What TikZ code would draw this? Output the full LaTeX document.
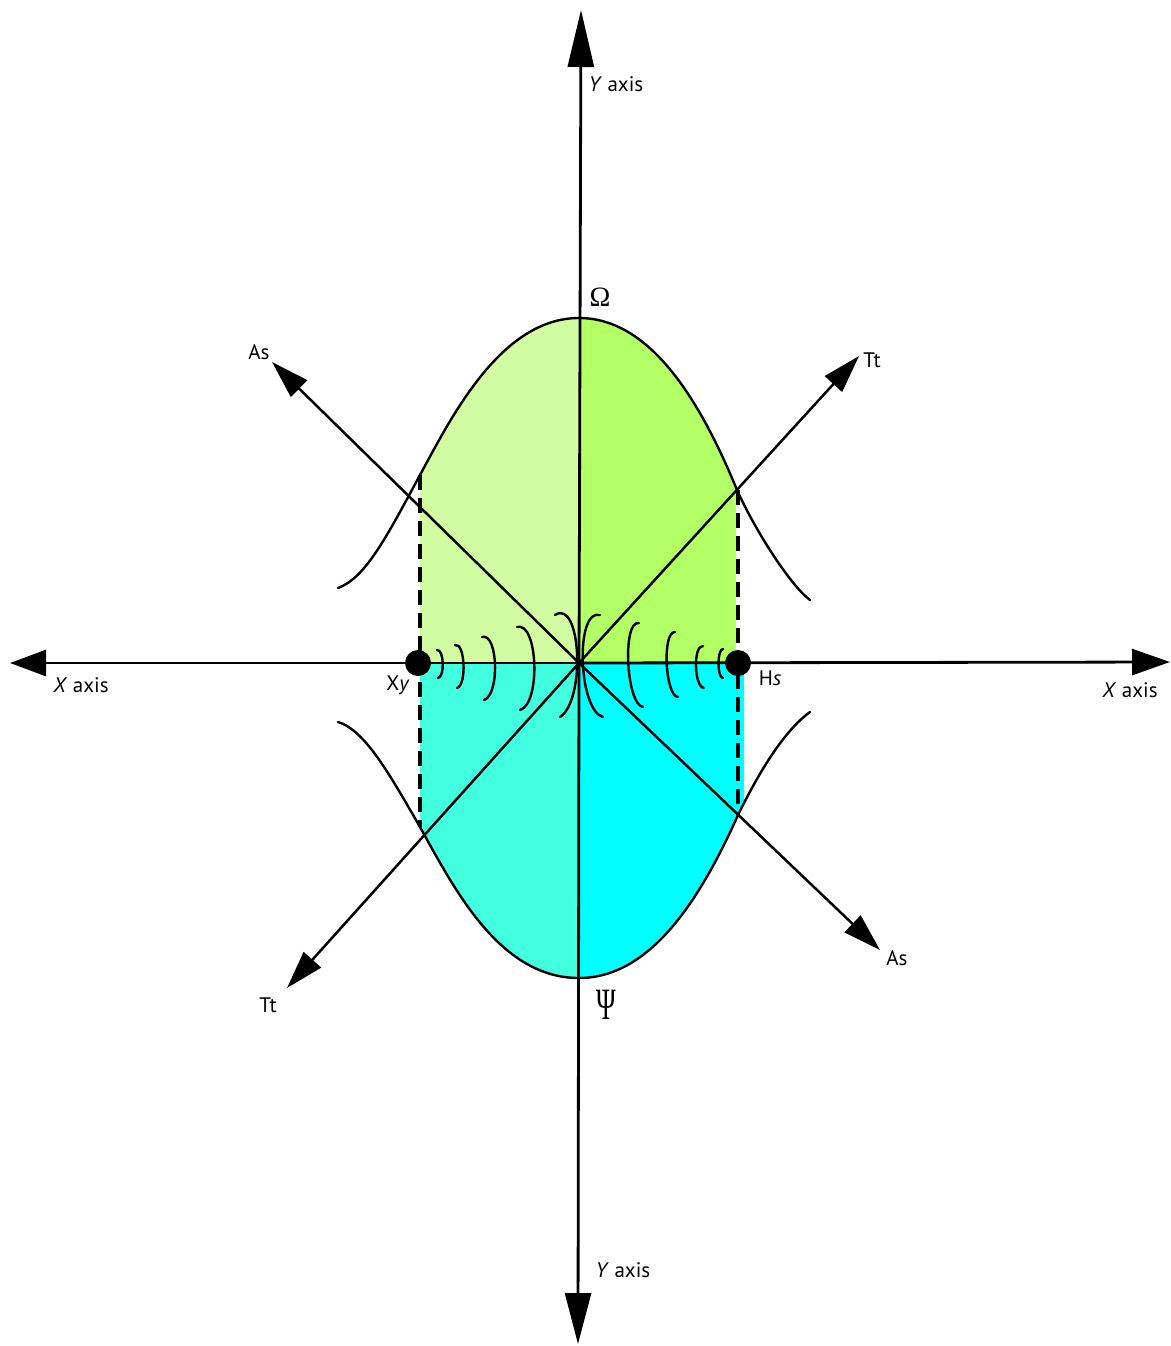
\documentclass[tikz,border=0pt]{standalone}
\usepackage{fontspec}
\setmainfont{PT Sans}
\newfontfamily\greekfont{Liberation Serif}
\usetikzlibrary{arrows.meta}
\tikzset{
  axis/.style={line width=2.8pt, -{Triangle[length=#1, width=26pt]}},
  diag/.style={line width=2.5pt, -{Triangle[length=38pt, width=23pt]}},
  curve/.style={line width=2.4pt},
  guide/.style={line width=3.4pt, dash pattern=on 15pt off 8pt, line cap=butt},
  ripple/.style={line width=2.4pt},
  dot/.style={circle, fill=black, minimum size=26pt, inner sep=0pt},
  lbl/.style={font=\fontsize{21}{24}\selectfont, inner sep=0pt},
  greek/.style={font=\greekfont\fontsize{28}{32}\selectfont, inner sep=0pt},
}
\newcommand{\upperbell}{(338,588) .. controls (365,578) and (385,540) .. (420,475)
  .. controls (450,420) and (500,318) .. (579,318)
  .. controls (650,318) and (700,400) .. (737,490)
  .. controls (755,530) and (790,585) .. (810,600)}
\newcommand{\lowerbell}{(338,722) .. controls (365,730) and (390,775) .. (420,827)
  .. controls (455,890) and (500,978) .. (579,978)
  .. controls (650,978) and (700,900) .. (738,815)
  .. controls (760,770) and (785,730) .. (810,712)}
\begin{document}
\begin{tikzpicture}[yscale=-1, x=1pt, y=1pt, line join=round, line cap=round]
% Region color definitions
\definecolor{fillTL}{rgb}{0.82,0.99,0.63}
\definecolor{fillTR}{rgb}{0.70,1,0.40}
\definecolor{fillBL}{rgb}{0.26,1,0.88}
\definecolor{fillBR}{rgb}{0,1,1}
% End of color definitions
\useasboundingbox (0,0) rectangle (1170,1346);
\coordinate (O) at (579,663);
% Filled halves
\begin{scope}
\clip (420,300) rectangle (579,663);
\fill[fillTL] \upperbell -- (810,663) -- (338,663) -- cycle;
\end{scope}
\begin{scope}
\clip (579,300) rectangle (736,663);
\fill[fillTR] \upperbell -- (810,663) -- (338,663) -- cycle;
\end{scope}
\begin{scope}
\clip (420,663) rectangle (579,1000);
\fill[fillBL] \lowerbell -- (810,663) -- (338,663) -- cycle;
\end{scope}
\begin{scope}
\clip (579,663) rectangle (744,1000);
\fill[fillBR] \lowerbell -- (810,663) -- (338,663) -- cycle;
\end{scope}
% Bell curves
\draw[curve] \upperbell;
\draw[curve] \lowerbell;
% Dashed bounds
\coordinate (xyUp) at (420,475);
\coordinate (xyDn) at (420,827);
\coordinate (hsUp) at (738,490);
\coordinate (hsDn) at (738,815);
\draw[guide] (xyUp) -- (xyDn);
\draw[guide] (hsUp) -- (hsDn);
% Axes
\coordinate (yTop) at (581,10);
\coordinate (yBot) at (578,1344);
\coordinate (xLeft) at (10,663);
\coordinate (xRight) at (1170,662);
\draw[axis=57pt] (O) -- (yTop);
\draw[axis=51pt] (O) -- (yBot);
\draw[axis=36pt] (O) -- (xLeft);
\draw[axis=38pt] (O) -- (xRight);
% Diagonals
\coordinate (asUp) at (272,362);
\coordinate (asDn) at (880,950);
\coordinate (ttUp) at (859,356);
\coordinate (ttDn) at (287,988);
\draw[diag] (O) -- (asUp);
\draw[diag] (O) -- (asDn);
\draw[diag] (O) -- (ttUp);
\draw[diag] (O) -- (ttDn);
% Ripples
\draw[ripple] (437,650) .. controls (444,649) and (445,677) .. (438,678);
\draw[ripple] (455,645) .. controls (465,642) and (467,685) .. (457,688);
\draw[ripple] (482,637) .. controls (498,632) and (500,695) .. (484,700);
\draw[ripple] (517,627) .. controls (538,621) and (541,704) .. (520,710);
\draw[ripple] (555,615) .. controls (581,598) and (586,700) .. (560,717);
\draw[ripple] (600,615) .. controls (575,608) and (578,710) .. (603,717);
\draw[ripple] (639,623) .. controls (622,620) and (626,704) .. (643,707);
\draw[ripple] (675,632) .. controls (662,631) and (665,696) .. (678,697);
\draw[ripple] (703,646) .. controls (693,645) and (694,687) .. (704,688);
\draw[ripple] (723,649) .. controls (717,649) and (717,678) .. (723,678);
% Points
\node[dot] (xy) at (418,663) {};
\node[dot] (hs) at (738,663) {};
% Labels
\node[lbl] (yTopLbl) at (616,84) {\textit{Y} axis};
\node[lbl] (yBotLbl) at (623,1270) {\textit{Y} axis};
\node[lbl] (xLeftLbl) at (81,685) {\textit{X} axis};
\node[lbl] (xRightLbl) at (1130,690) {\textit{X} axis};
\node[lbl] (asUpLbl) at (259,352) {As};
\node[lbl] (asDnLbl) at (897,958) {As};
\node[lbl] (ttUpLbl) at (872,360) {Tt};
\node[lbl] (ttDnLbl) at (268,1005) {Tt};
\node[lbl] (xyLbl) at (398,685) {X\textit{y}};
\node[lbl] (hsLbl) at (770,678) {H\textit{s}};
\node[greek] (omega) at (600,297) {Ω};
\node[greek] (psi) at (606,1005) {\scalebox{0.95}[1.6]{Ψ}};
\end{tikzpicture}
\end{document}
